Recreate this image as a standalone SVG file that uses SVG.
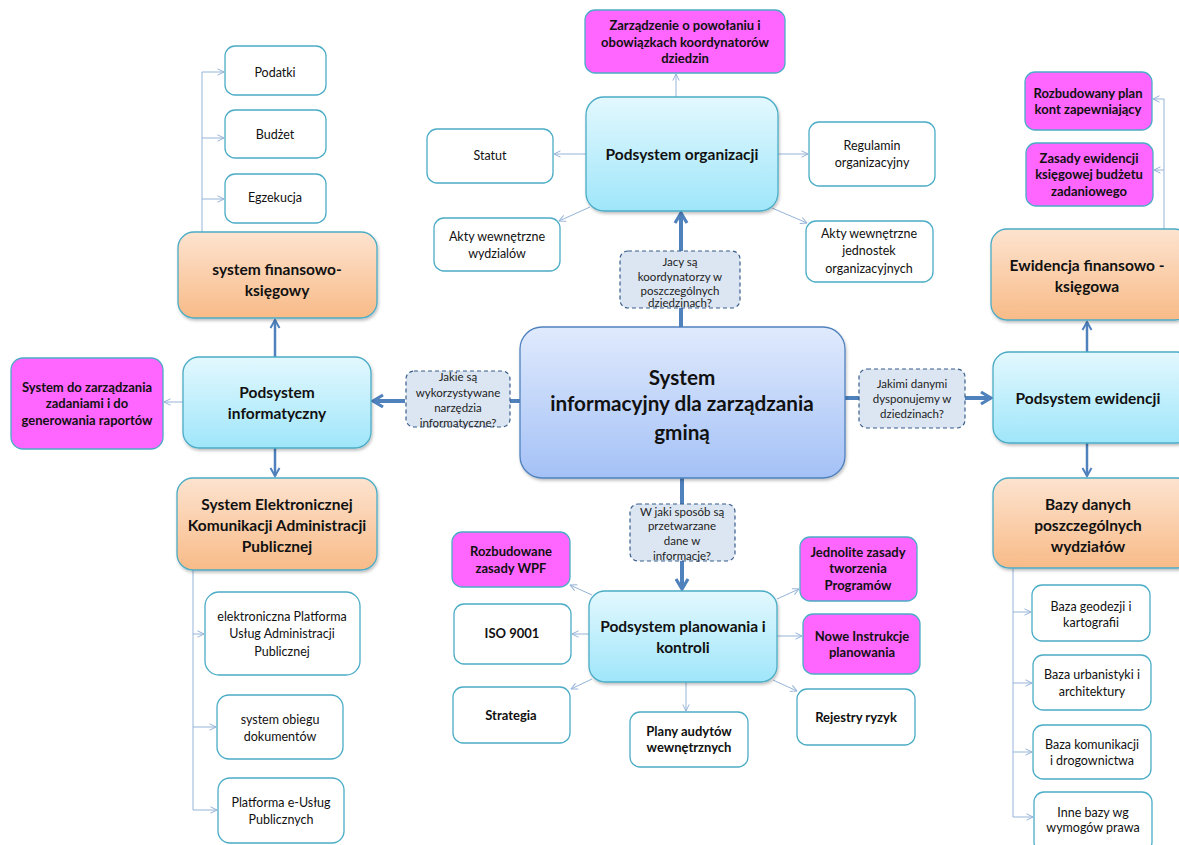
<svg xmlns="http://www.w3.org/2000/svg" width="1179" height="845" viewBox="0 0 1179 845">
<defs>
<linearGradient id="gCyan" x1="0" y1="0" x2="0" y2="1"><stop offset="0" stop-color="#e3f8fe"/><stop offset="1" stop-color="#9fe6fa"/></linearGradient>
<linearGradient id="gOrange" x1="0" y1="0" x2="0" y2="1"><stop offset="0" stop-color="#fde3cf"/><stop offset="1" stop-color="#f8bb88"/></linearGradient>
<linearGradient id="gCentral" x1="0" y1="0" x2="0" y2="1"><stop offset="0" stop-color="#e0eafd"/><stop offset="1" stop-color="#a4c1f6"/></linearGradient>
<filter id="sh" x="-10%" y="-10%" width="125%" height="130%"><feDropShadow dx="1" dy="2" stdDeviation="1.5" flood-color="#000" flood-opacity="0.25"/></filter>
<marker id="mThick" viewBox="0 0 16 16" refX="13" refY="8" markerWidth="16" markerHeight="16" markerUnits="userSpaceOnUse" orient="auto"><path d="M3,2 L13,8 L3,14" fill="none" stroke="#4f81bd" stroke-width="3.2" stroke-linejoin="miter"/></marker>
<marker id="mMed" viewBox="0 0 12 12" refX="10" refY="6" markerWidth="12" markerHeight="12" markerUnits="userSpaceOnUse" orient="auto"><path d="M2,1.5 L10,6 L2,10.5" fill="none" stroke="#4f81bd" stroke-width="2"/></marker>
<marker id="mThin" viewBox="0 0 8 8" refX="7.5" refY="4" markerWidth="8" markerHeight="8" markerUnits="userSpaceOnUse" orient="auto"><path d="M1,0.8 L7.5,4 L1,7.2" fill="none" stroke="#95b3d7" stroke-width="1"/></marker>
</defs>
<style>
text{font-family:Lato,"Open Sans","Liberation Sans",sans-serif;text-anchor:middle;fill:#111}
.w{fill:#fff;stroke:#4bacc6;stroke-width:1.3}
.c{fill:url(#gCyan);stroke:#4bacc6;stroke-width:1.3;filter:url(#sh)}
.o{fill:url(#gOrange);stroke:#4bacc6;stroke-width:1.3;filter:url(#sh)}
.m{fill:#ff66ff;stroke:#4bacc6;stroke-width:1.3}
.cen{fill:url(#gCentral);stroke:#4f81bd;stroke-width:1.3;filter:url(#sh)}
.q{fill:#dce6f2;stroke:#385d8a;stroke-width:1.2;stroke-dasharray:4 3}
.t{font-size:12.5px}
.tb{font-size:13px;font-weight:bold}
.h{font-size:15.5px;font-weight:bold}
.qt{font-size:11.5px;fill:#222}
.big{font-size:20.7px;font-weight:bold}
.thick{stroke:#4f81bd;stroke-width:4;fill:none}
.med{stroke:#4f81bd;stroke-width:2.5;fill:none}
.thin{stroke:#95b3d7;stroke-width:1;fill:none}
</style>

<g id="connectors">
<line class="thick" x1="681" y1="327" x2="681" y2="308"/>
<line class="thick" x1="681" y1="251" x2="681" y2="213" marker-end="url(#mThick)"/>
<line class="thick" x1="520" y1="401" x2="510" y2="401"/>
<line class="thick" x1="405" y1="401" x2="373" y2="401" marker-end="url(#mThick)"/>
<line class="thick" x1="845" y1="398" x2="859" y2="398"/>
<line class="thick" x1="965" y1="398" x2="991" y2="398" marker-end="url(#mThick)"/>
<line class="thick" x1="682" y1="478" x2="682" y2="504"/>
<line class="thick" x1="682" y1="561" x2="682" y2="589" marker-end="url(#mThick)"/>
<line class="med" x1="275" y1="357" x2="275" y2="320" marker-end="url(#mMed)"/>
<line class="med" x1="275" y1="448" x2="275" y2="476" marker-end="url(#mMed)"/>
<line class="med" x1="1087" y1="352" x2="1087" y2="322" marker-end="url(#mMed)"/>
<line class="med" x1="1087" y1="443" x2="1087" y2="476" marker-end="url(#mMed)"/>
<line class="thin" x1="676" y1="97" x2="676" y2="74" marker-end="url(#mThin)"/>
<line class="thin" x1="586" y1="154" x2="554" y2="154" marker-end="url(#mThin)"/>
<line class="thin" x1="778" y1="154" x2="808" y2="154" marker-end="url(#mThin)"/>
<line class="thin" x1="590" y1="207" x2="559" y2="221" marker-end="url(#mThin)"/>
<line class="thin" x1="772" y1="208" x2="807" y2="223" marker-end="url(#mThin)"/>
<line class="thin" x1="183" y1="402" x2="164" y2="402" marker-end="url(#mThin)"/>
<polyline class="thin" points="202,232 202,72"/>
<line class="thin" x1="202" y1="72" x2="224" y2="72" marker-end="url(#mThin)"/>
<line class="thin" x1="202" y1="138" x2="224" y2="138" marker-end="url(#mThin)"/>
<line class="thin" x1="202" y1="199" x2="224" y2="199" marker-end="url(#mThin)"/>
<polyline class="thin" points="193,570 193,810"/>
<line class="thin" x1="193" y1="634" x2="204" y2="634" marker-end="url(#mThin)"/>
<line class="thin" x1="193" y1="727" x2="216" y2="727" marker-end="url(#mThin)"/>
<line class="thin" x1="193" y1="810" x2="217" y2="810" marker-end="url(#mThin)"/>
<polyline class="thin" points="1164,229 1164,99"/>
<line class="thin" x1="1164" y1="99" x2="1153" y2="99" marker-end="url(#mThin)"/>
<line class="thin" x1="1164" y1="170" x2="1154" y2="170" marker-end="url(#mThin)"/>
<polyline class="thin" points="1013,568 1013,817"/>
<line class="thin" x1="1013" y1="612" x2="1031" y2="612" marker-end="url(#mThin)"/>
<line class="thin" x1="1013" y1="683" x2="1032" y2="683" marker-end="url(#mThin)"/>
<line class="thin" x1="1013" y1="752" x2="1032" y2="752" marker-end="url(#mThin)"/>
<line class="thin" x1="1013" y1="817" x2="1033" y2="817" marker-end="url(#mThin)"/>
<line class="thin" x1="592" y1="595" x2="570" y2="585" marker-end="url(#mThin)"/>
<line class="thin" x1="589" y1="634" x2="572" y2="634" marker-end="url(#mThin)"/>
<line class="thin" x1="592" y1="679" x2="571" y2="689" marker-end="url(#mThin)"/>
<line class="thin" x1="686" y1="682" x2="686" y2="711" marker-end="url(#mThin)"/>
<line class="thin" x1="773" y1="680" x2="797" y2="691" marker-end="url(#mThin)"/>
<line class="thin" x1="777" y1="636" x2="802" y2="636" marker-end="url(#mThin)"/>
<line class="thin" x1="777" y1="599" x2="799" y2="589" marker-end="url(#mThin)"/>
</g>

<g id="zarzadzenie"><rect class="m" x="585" y="10" width="200" height="63" rx="10"/>
<text class="tb" x="685" y="30">Zarządzenie o powołaniu i</text><text class="tb" x="685" y="47">obowiązkach koordynatorów</text><text class="tb" x="685" y="63">dziedzin</text></g>
<g id="podsystem-organizacji"><rect class="c" x="586" y="97" width="192" height="114" rx="18"/>
<text class="h" x="682" y="160">Podsystem organizacji</text></g>
<g id="statut"><rect class="w" x="427" y="129" width="126" height="54" rx="10"/><text class="t" x="490" y="160">Statut</text></g>
<g id="regulamin"><rect class="w" x="809" y="122" width="126" height="64" rx="10"/><text class="t" x="872" y="150">Regulamin</text><text class="t" x="872" y="167">organizacyjny</text></g>
<g id="akty-wydzialow"><rect class="w" x="434" y="218" width="126" height="53" rx="10"/><text class="t" x="497" y="241">Akty wewnętrzne</text><text class="t" x="497" y="258">wydzialów</text></g>
<g id="akty-jednostek"><rect class="w" x="806" y="221" width="127" height="61" rx="10"/><text class="t" x="869" y="238">Akty wewnętrzne</text><text class="t" x="869" y="255">jednostek</text><text class="t" x="869" y="273">organizacyjnych</text></g>
<g id="q-koordynatorzy"><rect class="q" x="620" y="251" width="120" height="57" rx="8"/>
<text class="qt" x="680" y="266">Jacy są</text><text class="qt" x="680" y="281">koordynatorzy w</text><text class="qt" x="680" y="295">poszczególnych</text><text class="qt" x="680" y="307">dziedzinach?</text></g>

<g id="central"><rect class="cen" x="520" y="327" width="325" height="151" rx="22"/>
<text class="big" x="682" y="385">System</text><text class="big" x="682" y="411">informacyjny dla zarządzania</text><text class="big" x="682" y="440">gminą</text></g>

<g id="q-narzedzia"><rect class="q" x="406" y="371" width="104" height="56" rx="8"/>
<text class="qt" x="458" y="381">Jakie są</text><text class="qt" x="458" y="397">wykorzystywane</text><text class="qt" x="458" y="412">narzędzia</text><text class="qt" x="458" y="427">informatyczne?</text></g>
<g id="q-dane"><rect class="q" x="859" y="369" width="106" height="59" rx="8"/>
<text class="qt" x="912" y="388">Jakimi danymi</text><text class="qt" x="912" y="403">dysponujemy w</text><text class="qt" x="912" y="418">dziedzinach?</text></g>
<g id="q-przetwarzanie"><rect class="q" x="630" y="504" width="105" height="57" rx="8"/>
<text class="qt" x="682" y="516">W jaki sposób są</text><text class="qt" x="682" y="530">przetwarzane</text><text class="qt" x="682" y="545">dane w</text><text class="qt" x="682" y="560">informacje?</text></g>

<g id="podsystem-informatyczny"><rect class="c" x="183" y="357" width="188" height="91" rx="16"/>
<text class="h" x="277" y="398">Podsystem</text><text class="h" x="277" y="419">informatyczny</text></g>
<g id="system-zadania"><rect class="m" x="11" y="358" width="152" height="91" rx="12"/>
<text class="tb" x="87" y="392">System do zarządzania</text><text class="tb" x="87" y="408">zadaniami i do</text><text class="tb" x="87" y="425">generowania raportów</text></g>
<g id="system-finansowo"><rect class="o" x="178" y="232" width="199" height="86" rx="16"/>
<text class="h" x="277" y="275">system finansowo-</text><text class="h" x="277" y="296">księgowy</text></g>
<g id="podatki"><rect class="w" x="225" y="46" width="101" height="49" rx="10"/><text class="t" x="275" y="77">Podatki</text></g>
<g id="budzet"><rect class="w" x="225" y="110" width="101" height="48" rx="10"/><text class="t" x="275" y="139">Budżet</text></g>
<g id="egzekucja"><rect class="w" x="225" y="174" width="101" height="49" rx="10"/><text class="t" x="275" y="202">Egzekucja</text></g>
<g id="sekap"><rect class="o" x="177" y="478" width="200" height="92" rx="16"/>
<text class="h" x="277" y="510">System Elektronicznej</text><text class="h" x="277" y="531">Komunikacji Administracji</text><text class="h" x="277" y="552">Publicznej</text></g>
<g id="epuap"><rect class="w" x="205" y="592" width="155" height="83" rx="14"/>
<text class="t" x="282" y="621">elektroniczna Platforma</text><text class="t" x="282" y="638">Usług Administracji</text><text class="t" x="282" y="656">Publicznej</text></g>
<g id="obieg"><rect class="w" x="217" y="695" width="126" height="64" rx="12"/>
<text class="t" x="280" y="724">system obiegu</text><text class="t" x="280" y="741">dokumentów</text></g>
<g id="e-uslugi"><rect class="w" x="218" y="778" width="126" height="65" rx="12"/>
<text class="t" x="281" y="807">Platforma e-Usług</text><text class="t" x="281" y="824">Publicznych</text></g>

<g id="podsystem-ewidencji"><rect class="c" x="993" y="352" width="200" height="91" rx="16"/>
<text class="h" x="1088" y="404">Podsystem ewidencji</text></g>
<g id="ewidencja-finansowo"><rect class="o" x="991" y="229" width="200" height="91" rx="16"/>
<text class="h" x="1087" y="271">Ewidencja finansowo -</text><text class="h" x="1087" y="292">księgowa</text></g>
<g id="plan-kont"><rect class="m" x="1025" y="72" width="127" height="58" rx="10"/>
<text class="tb" x="1088" y="98">Rozbudowany plan</text><text class="tb" x="1088" y="114">kont zapewniający</text></g>
<g id="zasady-ewidencji"><rect class="m" x="1026" y="143" width="127" height="63" rx="10"/>
<text class="tb" x="1089" y="163">Zasady ewidencji</text><text class="tb" x="1089" y="179">księgowej budżetu</text><text class="tb" x="1089" y="196">zadaniowego</text></g>
<g id="bazy-danych"><rect class="o" x="993" y="478" width="200" height="90" rx="16"/>
<text class="h" x="1088" y="510">Bazy danych</text><text class="h" x="1088" y="531">poszczególnych</text><text class="h" x="1088" y="552">wydziałów</text></g>
<g id="baza-geodezji"><rect class="w" x="1032" y="585" width="118" height="56" rx="10"/>
<text class="t" x="1091" y="611">Baza geodezji i</text><text class="t" x="1091" y="627">kartografii</text></g>
<g id="baza-urbanistyki"><rect class="w" x="1033" y="655" width="118" height="55" rx="10"/>
<text class="t" x="1092" y="679">Baza urbanistyki i</text><text class="t" x="1092" y="696">architektury</text></g>
<g id="baza-komunikacji"><rect class="w" x="1033" y="725" width="118" height="54" rx="10"/>
<text class="t" x="1092" y="749">Baza komunikacji</text><text class="t" x="1092" y="765">i drogownictwa</text></g>
<g id="inne-bazy"><rect class="w" x="1034" y="792" width="118" height="60" rx="10"/>
<text class="t" x="1093" y="817">Inne bazy wg</text><text class="t" x="1093" y="832">wymogów prawa</text></g>

<g id="podsystem-planowania"><rect class="c" x="589" y="591" width="188" height="91" rx="16"/>
<text class="h" x="683" y="632">Podsystem planowania i</text><text class="h" x="683" y="653">kontroli</text></g>
<g id="wpf"><rect class="m" x="452" y="532" width="118" height="55" rx="10"/>
<text class="tb" x="511" y="556">Rozbudowane</text><text class="tb" x="511" y="573">zasady WPF</text></g>
<g id="iso"><rect class="w" x="454" y="604" width="117" height="60" rx="10"/><text class="tb" x="512" y="638">ISO 9001</text></g>
<g id="strategia"><rect class="w" x="453" y="687" width="117" height="56" rx="10"/><text class="tb" x="511" y="720">Strategia</text></g>
<g id="plany-audytow"><rect class="w" x="630" y="712" width="118" height="55" rx="10"/>
<text class="tb" x="689" y="736">Plany audytów</text><text class="tb" x="689" y="752">wewnętrznych</text></g>
<g id="rejestry"><rect class="w" x="797" y="689" width="118" height="56" rx="10"/><text class="tb" x="856" y="722">Rejestry ryzyk</text></g>
<g id="jednolite"><rect class="m" x="800" y="537" width="117" height="64" rx="10"/>
<text class="tb" x="858" y="557">Jednolite zasady</text><text class="tb" x="858" y="573">tworzenia</text><text class="tb" x="858" y="590">Programów</text></g>
<g id="nowe-instrukcje"><rect class="m" x="803" y="614" width="117" height="60" rx="10"/>
<text class="tb" x="862" y="641">Nowe Instrukcje</text><text class="tb" x="862" y="657">planowania</text></g>
</svg>
